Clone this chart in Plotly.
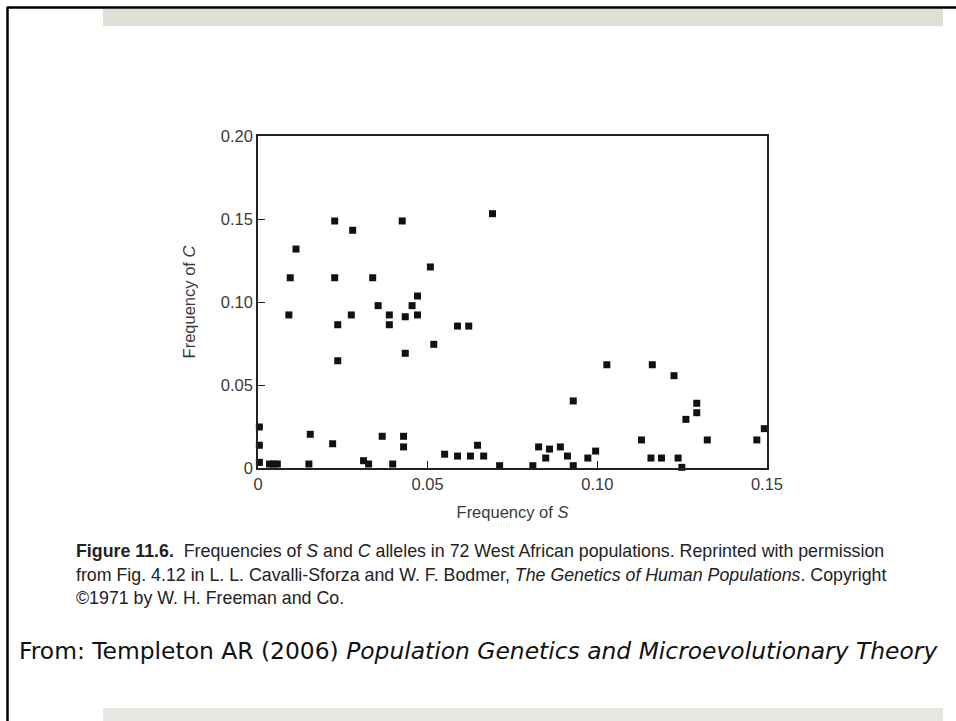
import plotly.graph_objects as go

# Frequency of S (x) and Frequency of C (y) for West African populations
freq_S = [0.0226, 0.0279, 0.0425, 0.0691, 0.0112, 0.0095, 0.0226, 0.0338, 0.0508, 0.0470,
          0.0354, 0.0454, 0.0091, 0.0275, 0.0387, 0.0434, 0.0470, 0.0235, 0.0387, 0.0518,
          0.0588, 0.0621, 0.0434, 0.0235, 0.0004, 0.0004, 0.0004, 0.0154, 0.0220, 0.0366,
          0.0429, 0.0429, 0.0550, 0.0588, 0.0626, 0.0665, 0.0647, 0.0034, 0.0046, 0.0057,
          0.0150, 0.0311, 0.0326, 0.0397, 0.0712, 0.1028, 0.1162, 0.1226, 0.0929, 0.1293,
          0.1293, 0.1261, 0.1492, 0.1130, 0.1324, 0.1470, 0.0827, 0.0859, 0.0891, 0.0848,
          0.0912, 0.0995, 0.0972, 0.1158, 0.1189, 0.1238, 0.0810, 0.0929, 0.1249]
freq_C = [0.1488, 0.1432, 0.1488, 0.1532, 0.1319, 0.1146, 0.1146, 0.1146, 0.1211, 0.1036,
          0.0978, 0.0978, 0.0922, 0.0922, 0.0922, 0.0911, 0.0922, 0.0863, 0.0863, 0.0745,
          0.0855, 0.0855, 0.0691, 0.0646, 0.0247, 0.0137, 0.0034, 0.0203, 0.0146, 0.0191,
          0.0191, 0.0127, 0.0083, 0.0072, 0.0072, 0.0072, 0.0137, 0.0024, 0.0024, 0.0024,
          0.0024, 0.0044, 0.0024, 0.0024, 0.0014, 0.0622, 0.0622, 0.0556, 0.0404, 0.0390,
          0.0333, 0.0293, 0.0237, 0.0169, 0.0169, 0.0169, 0.0127, 0.0114, 0.0127, 0.0060,
          0.0072, 0.0102, 0.0060, 0.0060, 0.0060, 0.0060, 0.0014, 0.0014, 0.0004]

x_tickvals = [0, 0.05, 0.10, 0.15]
x_ticktext = ["0", "0.05", "0.10", "0.15"]
y_tickvals = [0, 0.05, 0.10, 0.15, 0.20]
y_ticktext = ["0", "0.05", "0.10", "0.15", "0.20"]

W, H = 956, 721
L, R, T, B = 258, 189, 136, 253
PW, PH = W - L - R, H - T - B


def px(xp):
    return (xp - L) / PW


def py(yp):
    return (H - B - yp) / PH


fig = go.Figure()
fig.add_trace(go.Scatter(
    x=freq_S, y=freq_C, mode="markers",
    marker=dict(symbol="square", size=7, color="#111111", line=dict(width=0)),
    cliponaxis=False, showlegend=False, hoverinfo="x+y"))

axis_font = dict(family="Liberation Sans, Arial, sans-serif", size=16.5, color="#3a3a3a")

fig.update_xaxes(range=[0, 0.15], tickvals=x_tickvals, ticktext=x_ticktext,
                 ticks="inside", ticklen=7, tickcolor="#222", tickwidth=1.2,
                 showline=True, linecolor="#222", linewidth=1.6, mirror=True,
                 showgrid=False, zeroline=False, tickfont=axis_font,
                 title=dict(text="Frequency of <i>S</i>", font=axis_font, standoff=15))
fig.update_yaxes(range=[0, 0.20], tickvals=y_tickvals, ticktext=y_ticktext,
                 ticks="inside", ticklen=7, tickcolor="#222", tickwidth=1.2,
                 showline=True, linecolor="#222", linewidth=1.6, mirror=True,
                 showgrid=False, zeroline=False, tickfont=axis_font,
                 title=dict(text="Frequency of <i>C</i>", font=axis_font, standoff=21))

shapes = [
    # top gray band
    dict(type="rect", xref="paper", yref="paper", x0=px(103), x1=px(943), y0=py(9), y1=py(26),
         fillcolor="#dfdfd6", line=dict(width=0), layer="below"),
    # bottom gray band
    dict(type="rect", xref="paper", yref="paper", x0=px(103), x1=px(943), y0=py(708), y1=py(721),
         fillcolor="#e7e7e1", line=dict(width=0), layer="below"),
    # slide border: top and left
    dict(type="line", xref="paper", yref="paper", x0=px(7), x1=px(956), y0=py(7.5), y1=py(7.5),
         line=dict(color="#000000", width=2.5)),
    dict(type="line", xref="paper", yref="paper", x0=px(7.5), x1=px(7.5), y0=py(7), y1=py(721),
         line=dict(color="#000000", width=2.5)),
]

cap_font = dict(family="Liberation Sans, Arial, sans-serif", size=17.8, color="#222222")
cap_lines = [
    "<b>Figure 11.6.</b>  Frequencies of <i>S</i> and <i>C</i> alleles in 72 West African populations. Reprinted with permission",
    "from Fig. 4.12 in L. L. Cavalli-Sforza and W. F. Bodmer, <i>The Genetics of Human Populations</i>. Copyright",
    "\u00a91971 by W. H. Freeman and Co.",
]
cap_y = [551, 575, 598]
annotations = []
for t, yy in zip(cap_lines, cap_y):
    annotations.append(dict(text=t, xref="paper", yref="paper", x=px(74), y=py(yy),
                            xanchor="left", yanchor="middle", showarrow=False, font=cap_font))
annotations.append(dict(
    text="From: Templeton AR (2006) <i>Population Genetics and Microevolutionary Theory</i>",
    xref="paper", yref="paper", x=px(17), y=py(651), xanchor="left", yanchor="middle",
    showarrow=False, font=dict(family="DejaVu Sans, sans-serif", size=23.4, color="#111111")))

fig.update_layout(
    width=W, height=H, autosize=False,
    margin=dict(l=L, r=R, t=T, b=B, autoexpand=False),
    paper_bgcolor="white", plot_bgcolor="white",
    shapes=shapes, annotations=annotations,
)

fig.write_html("out.html", config={"displayModeBar": False})
